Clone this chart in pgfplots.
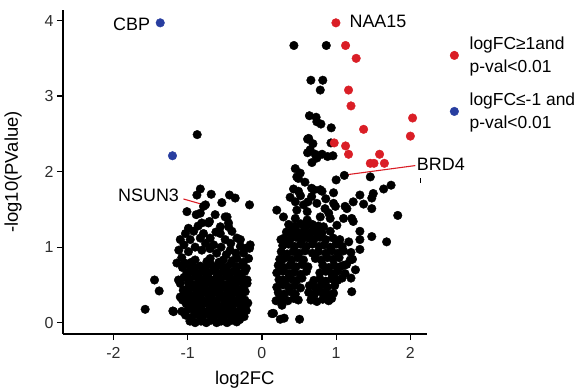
\documentclass[border=0pt]{standalone}
\usepackage{pgfplots}
\pgfplotsset{compat=1.18}
\usepackage{fontspec}
\setmainfont{Liberation Sans}
\definecolor{myred}{RGB}{218,30,38}
\definecolor{myblue}{RGB}{40,62,160}
\definecolor{tickgray}{RGB}{45,45,45}
\begin{document}
\begin{tikzpicture}
\useasboundingbox (0,0) rectangle (585bp,389bp);
\begin{axis}[
 at={(63bp,55bp)}, anchor=south west, scale only axis,
 width=363.7bp, height=324bp,
 xmin=-2.68, xmax=2.22, ymin=-0.15, ymax=4.14,
 axis lines=left, axis line style={-, line width=1.3bp, black},
 tick align=outside, major tick length=6bp, tick style={line width=1.2bp, black},
 xtick={-2,-1,0,1,2}, xticklabels={-2,-1,0,1,2},
 ytick={0,1,2,3,4}, yticklabels={0,1,2,3,4},
 ticklabel style={font=\fontsize{16}{18}\selectfont, text=tickgray},
 xticklabel style={yshift=-4bp},
 xlabel={log2FC}, ylabel={-log10(PValue)},
 label style={font=\fontsize{18.5}{20}\selectfont},
 xlabel style={at={(axis description cs:0.5,-0.14)}, anchor=center},
 ylabel style={at={(axis description cs:-0.1375,0.5)}, anchor=center},
 clip=false,
 legend style={at={(1.0555,0.93)}, anchor=north west, draw=none, fill=none,
   font=\fontsize{17.5}{23}\selectfont, nodes={align=left}, row sep=15bp, column sep=9bp},
 legend cell align=left,
]
\addplot[only marks, mark=*, mark size=4.3bp, black, forget plot] coordinates {
(-0.872,2.49)
(-0.83,1.77) (-0.876,1.69) (-0.683,1.70) (-0.437,1.69) (-0.36,1.65) (-0.54,1.59) (-0.167,1.56) (-1.01,1.47) (-0.787,1.54) (-0.83,1.45) (-0.63,1.43) (-0.47,1.40) (-0.81,1.32) (-0.72,1.32) (-0.45,1.27) (-0.885,1.43) (-0.76,1.56) (-0.495,1.40) (-0.706,1.34) (-0.45,1.32) (-0.56,1.27) (-0.99,1.25) (-1.03,1.18) (-0.92,1.21) (-0.787,1.18) (-0.56,1.18) (-0.404,1.21) (-1.10,1.10) (-0.966,1.10) (-0.83,1.12) (-0.697,1.12) (-0.495,1.10) (-0.337,1.12) (-0.29,1.10) (-0.65,1.03) (-0.29,1.01) (-0.158,1.03) (-0.225,0.985) (-0.167,0.985) (-1.12,0.96) (-0.99,0.94) (-0.81,0.96) (-0.61,0.92) (-0.427,0.96) (-0.248,0.92) (-1.08,0.86) (-0.90,0.83) (-0.697,0.85) (-0.52,0.83) (-0.337,0.85) (-0.18,0.85)
(-0.9,1.0) (-0.76,1.05) (-0.55,1.0) (-0.42,1.05) (-1.05,1.03) (-0.62,1.2) (-0.86,1.28) (-0.35,0.92) (-0.7,0.98) (-0.48,0.9)
(-1.573,0.177) (-1.447,0.565) (-1.384,0.42) (-1.124,0.565) (-1.2,0.155) (-1.146,0.79) (-1.19,0.146) (-1.10,0.34) (-1.06,0.43) (-0.2,0.565) (-0.225,0.41) (-0.225,0.21)
(-0.97,0.02) (-0.9,0.0) (-0.82,0.02) (-0.75,0.0) (-0.69,0.03) (-0.61,0.0) (-0.55,0.02) (-0.47,0.0) (-0.41,0.03) (-0.34,0.01) (-0.3,0.04)
(-1.03,0.1) (-0.95,0.07) (-0.86,0.1) (-0.8,0.08) (-0.72,0.11) (-0.65,0.08) (-0.58,0.1) (-0.52,0.07) (-0.44,0.1) (-0.38,0.08) (-0.3,0.1) (-0.24,0.08)
(-1.08,0.15) (-0.99,0.18) (-0.91,0.15) (-0.85,0.17) (-0.77,0.14) (-0.71,0.17) (-0.63,0.15) (-0.57,0.18) (-0.49,0.15) (-0.43,0.17) (-0.35,0.14) (-0.29,0.17) (-0.21,0.16)
(-1.02,0.25) (-0.95,0.22) (-0.89,0.25) (-0.81,0.23) (-0.75,0.26) (-0.67,0.23) (-0.61,0.25) (-0.53,0.22) (-0.47,0.25) (-0.39,0.23) (-0.33,0.26) (-0.26,0.23) (-0.19,0.26)
(-1.07,0.3) (-1.0,0.33) (-0.93,0.3) (-0.85,0.32) (-0.79,0.29) (-0.71,0.32) (-0.65,0.3) (-0.57,0.33) (-0.51,0.3) (-0.43,0.32) (-0.37,0.29) (-0.3,0.32) (-0.23,0.3)
(-1.04,0.39) (-0.97,0.37) (-0.89,0.39) (-0.83,0.36) (-0.75,0.39) (-0.69,0.37) (-0.61,0.4) (-0.55,0.37) (-0.47,0.39) (-0.41,0.36) (-0.33,0.39) (-0.27,0.37)
(-1.02,0.44) (-0.95,0.47) (-0.87,0.44) (-0.81,0.46) (-0.73,0.43) (-0.67,0.46) (-0.59,0.44) (-0.53,0.47) (-0.45,0.44) (-0.39,0.46) (-0.31,0.43) (-0.25,0.46)
(-1.1,0.52) (-0.99,0.53) (-0.91,0.5) (-0.85,0.53) (-0.77,0.51) (-0.71,0.54) (-0.63,0.51) (-0.57,0.53) (-0.49,0.5) (-0.43,0.53) (-0.35,0.51) (-0.28,0.54) (-0.2,0.52)
(-1.05,0.6) (-0.97,0.58) (-0.89,0.61) (-0.83,0.58) (-0.75,0.6) (-0.69,0.57) (-0.61,0.6) (-0.55,0.58) (-0.47,0.61) (-0.41,0.58) (-0.33,0.6) (-0.26,0.58)
(-1.01,0.66) (-0.94,0.68) (-0.86,0.65) (-0.8,0.68) (-0.72,0.66) (-0.66,0.69) (-0.58,0.65) (-0.52,0.68) (-0.44,0.66) (-0.38,0.68) (-0.3,0.65) (-0.23,0.68)
(-1.07,0.73) (-0.98,0.76) (-0.91,0.73) (-0.83,0.75) (-0.77,0.72) (-0.69,0.77) (-0.62,0.74) (-0.55,0.76) (-0.48,0.73) (-0.42,0.78) (-0.34,0.74) (-0.27,0.76) (-0.21,0.72)
(-0.95,0.8) (-0.74,0.81) (-0.58,0.8) (-0.4,0.82) (-0.25,0.8) (-1.04,0.79)
(0.431,3.67) (0.867,3.67) (0.66,3.21) (0.82,3.21) (0.786,3.08)
(0.64,2.74) (0.73,2.72) (0.795,2.63) (0.934,2.58) (0.74,2.66)
(0.615,2.43) (0.687,2.37) (0.93,2.38) (0.63,2.44)
(0.615,2.25) (0.718,2.23) (0.81,2.23) (0.884,2.20) (0.957,2.21) (0.65,2.29)
(0.674,2.12) (0.74,2.18) (0.449,2.04) (0.516,1.98) (0.47,1.93) (0.49,1.91)
(1.0,1.89) (1.11,1.95) (1.46,1.93)
(0.426,1.77) (0.493,1.74) (0.70,1.76) (0.81,1.74) (0.965,1.72) (0.786,1.76) (0.67,1.78)
(1.32,1.69) (1.64,1.77) (1.74,1.82) (1.50,1.71) (1.48,1.65) (1.37,1.57) (1.48,1.51) (1.23,1.60) (1.145,1.51) (1.83,1.42) (1.21,1.38) (1.23,1.34)
(0.67,1.67) (0.45,1.60) (0.56,1.56) (0.74,1.58) (0.965,1.58) (0.20,1.49) (0.29,1.40) (0.47,1.49) (0.61,1.47) (0.85,1.51) (0.99,1.54) (1.12,1.54)
(0.45,1.38) (0.61,1.36) (0.786,1.40) (0.92,1.38) (1.10,1.38) (0.45,1.25) (0.56,1.29) (0.70,1.25) (0.83,1.27) (1.01,1.29) (0.40,1.18) (0.56,1.18) (0.74,1.18) (0.92,1.21)
(0.52,1.68) (0.58,1.86) (0.86,1.64) (0.38,1.66) (0.62,1.6) (0.9,1.45)
(1.32,1.21) (1.32,1.10) (1.48,1.14) (1.68,1.07) (1.32,0.97) (1.17,1.07) (1.19,0.83) (1.26,0.70) (1.10,0.76) (0.965,0.63) (1.08,0.59) (1.20,0.59) (1.21,0.41) (0.965,0.39) (0.94,0.32) (0.674,0.32) (0.83,0.39) (0.507,0.045) (0.30,0.06) (0.135,0.12) (0.247,0.045) (0.156,0.124) (0.27,0.23) (0.247,0.34) (0.29,0.565) (0.27,0.83) (0.256,1.10) (0.49,0.30)
(0.19,0.29) (0.27,0.31) (0.35,0.29) (0.43,0.32) (0.66,0.3) (0.74,0.28) (0.82,0.31) (0.9,0.29)
(0.22,0.4) (0.3,0.38) (0.38,0.41) (0.45,0.38) (0.63,0.4) (0.71,0.38) (0.79,0.41) (0.88,0.38)
(0.2,0.47) (0.28,0.5) (0.36,0.47) (0.44,0.49) (0.52,0.46) (0.64,0.49) (0.72,0.47) (0.8,0.5) (0.88,0.47) (0.98,0.49)
(0.23,0.57) (0.31,0.55) (0.39,0.58) (0.47,0.56) (0.54,0.59) (0.7,0.56) (0.78,0.58) (0.86,0.55) (0.94,0.58) (1.02,0.56)
(0.2,0.66) (0.28,0.68) (0.36,0.65) (0.44,0.67) (0.52,0.64) (0.6,0.68) (0.78,0.66) (0.86,0.68) (0.94,0.65) (1.02,0.68) (1.12,0.65)
(0.22,0.76) (0.3,0.73) (0.38,0.76) (0.46,0.74) (0.54,0.77) (0.62,0.74) (0.82,0.76) (0.9,0.73) (0.97,0.76) (1.05,0.74) (1.14,0.77)
(0.24,0.84) (0.32,0.86) (0.4,0.83) (0.48,0.86) (0.56,0.83) (0.72,0.85) (0.8,0.83) (0.88,0.86) (0.96,0.84) (1.04,0.86) (1.22,0.84)
(0.26,0.94) (0.34,0.91) (0.42,0.94) (0.5,0.92) (0.58,0.95) (0.68,0.92) (0.76,0.94) (0.86,0.92) (0.94,0.95) (1.02,0.92) (1.1,0.95) (1.2,0.93)
(0.28,1.02) (0.36,1.04) (0.44,1.01) (0.52,1.04) (0.6,1.01) (0.68,1.04) (0.77,1.01) (0.84,1.03) (0.92,1.0) (1.0,1.04) (1.08,1.01)
(0.3,1.12) (0.38,1.1) (0.46,1.13) (0.54,1.1) (0.62,1.12) (0.7,1.1) (0.78,1.13) (0.86,1.1) (0.96,1.12) (1.05,1.1)
(0.33,1.2) (0.41,1.22) (0.49,1.19) (0.57,1.22) (0.65,1.19) (0.73,1.21) (0.81,1.19)
(0.36,1.3) (0.44,1.28) (0.52,1.31) (0.6,1.28) (0.68,1.3) (0.76,1.28)
};
\addplot[only marks, mark=*, mark size=4.3bp, myred, mark options={fill=myred, draw=myred}] coordinates {
(0.997,3.97) (1.127,3.67) (1.27,3.50) (1.167,3.08) (1.20,2.87) (2.03,2.71) (2.00,2.47) (1.37,2.56) (0.974,2.38) (1.127,2.34) (1.167,2.23) (1.585,2.23) (1.46,2.11) (1.51,2.11) (1.65,2.11)
};
\addlegendentry{logFC≥1and\\p-val<0.01}
\addplot[only marks, mark=*, mark size=4.3bp, myblue, mark options={fill=myblue, draw=myblue}] coordinates {
(-1.37,3.97) (-1.205,2.21)
};
\addlegendentry{logFC≤-1 and\\p-val<0.01}
\node[anchor=east, inner sep=0pt, font=\fontsize{18}{20}\selectfont] at (axis cs:-1.505,3.956) {CBP};
\node[anchor=west, inner sep=0pt, font=\fontsize{18}{20}\selectfont] at (axis cs:1.178,3.99) {NAA15};
\node[anchor=east, inner sep=0pt, font=\fontsize{18}{20}\selectfont] at (axis cs:-1.115,1.685) {NSUN3};
\node[anchor=west, inner sep=0pt, font=\fontsize{18}{20}\selectfont] at (axis cs:2.086,2.09) {BRD4};
\draw[myred, line width=1.1bp] (axis cs:-1.057,1.638) -- (axis cs:-0.809,1.568);
\draw[myred, line width=1.1bp] (axis cs:1.123,1.956) -- (axis cs:2.066,2.08);
\draw[black, line width=1bp] (axis cs:2.13,1.85) -- (axis cs:2.13,1.92);
\end{axis}
\end{tikzpicture}
\end{document}
